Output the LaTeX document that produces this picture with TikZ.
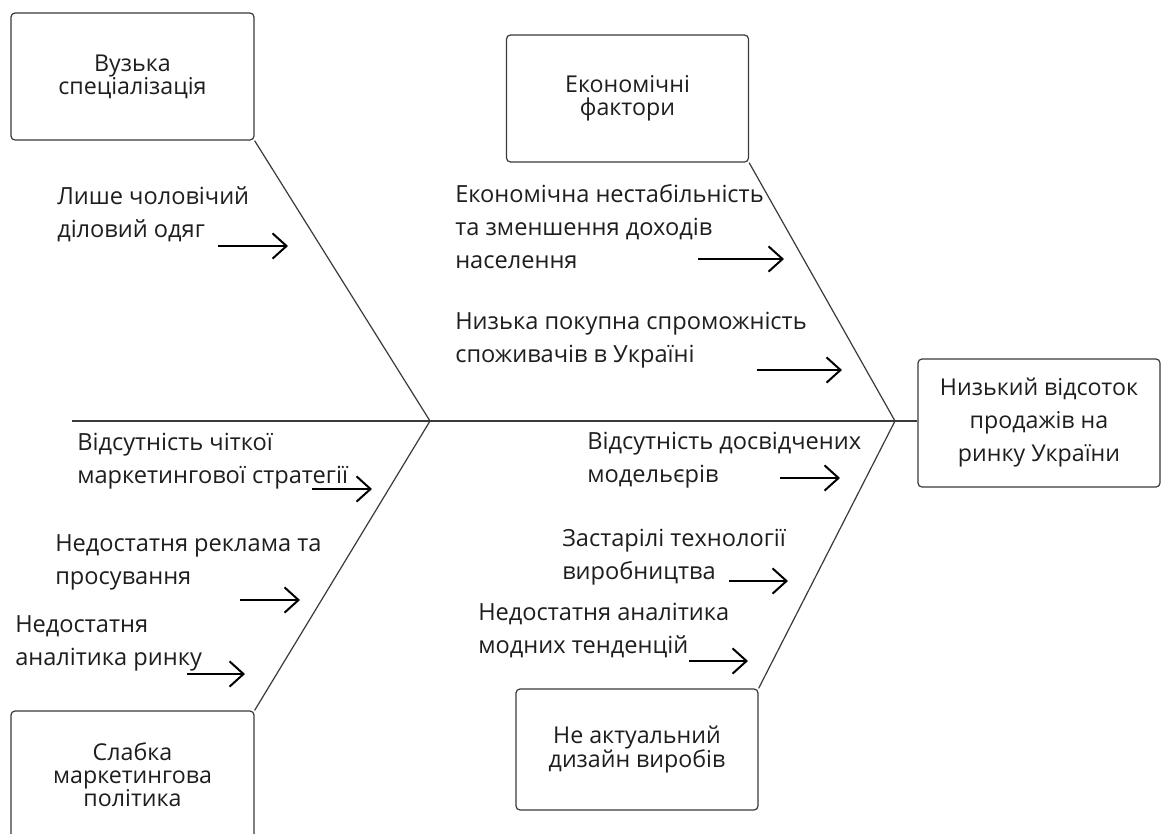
\documentclass[tikz,border=0pt]{standalone}
\usepackage{fontspec}
\setmainfont{Open Sans}
\usetikzlibrary{arrows.meta}
\definecolor{txt}{HTML}{1E1E1E}
\definecolor{linec}{HTML}{3A3A3A}
\definecolor{boxc}{HTML}{3A3A3A}
\begin{document}
\begin{tikzpicture}[x=0.75pt,y=-0.75pt,
  box/.style={draw=boxc, line width=0.9pt, rounded corners=3pt, align=center,
    inner sep=0pt, text=txt, font=\fontsize{17.4}{17.25}\selectfont},
  lbl/.style={anchor=base west, align=left, inner sep=0pt, text=txt,
    font=\fontsize{17.7}{24.5}\selectfont},
  bone/.style={draw=linec, line width=0.9pt},
  cause/.style={draw=black, line width=1.5pt,
    -{Straight Barb[length=10.5pt,width=19pt,line width=1.5pt]}}]
\clip (0,0) rectangle (1161,833);
\fill[white] (0,0) rectangle (1161,833);

% boxes
\node[box, minimum width=182.25pt, minimum height=95.25pt] (A) at (132.5,76.5) {Вузька\\спеціалізація};
\node[box, minimum width=181.5pt, minimum height=95.25pt] (B) at (627.5,98.5) {Економічні\\фактори};
\node[box, minimum width=181.5pt, minimum height=96pt, font=\fontsize{17.4}{24.75}\selectfont] (C) at (1039,423) {Низький відсоток\\продажів на\\ринку України};
\node[box, minimum width=182.25pt, minimum height=95.25pt] (D) at (132.5,774.5) {Слабка\\маркетингова\\політика};
\node[box, minimum width=181.5pt, minimum height=90.75pt] (E) at (637,749.5) {Не актуальний\\дизайн виробів};

% spine and bones
\coordinate (S) at (72,421);
\coordinate (J1) at (430,421);
\coordinate (J2) at (895,421);
\draw[bone] (S) -- (C.west |- S);
\draw[bone] (A.south east) -- (J1) -- (D.north east);
\draw[bone] (B.south east) -- (J2) -- (E.north east);

% labels (anchored at the baseline of the last line)
\node[lbl] (l1) at (57,237) {Лише чоловічий\\діловий одяг};
\node[lbl] (l2) at (455,268) {Економічна нестабільність\\та зменшення доходів\\населення};
\node[lbl] (l3) at (455,362) {Низька покупна спроможність\\споживачів в Україні};
\node[lbl] (l4) at (77,483) {Відсутність чіткої\\маркетингової стратегії};
\node[lbl] (l5) at (55,584) {Недостатня реклама та\\просування};
\node[lbl] (l6) at (15,665) {Недостатня\\аналітика ринку};
\node[lbl] (l7) at (587,482) {Відсутність досвідчених\\модельєрів};
\node[lbl] (l8) at (562,579) {Застарілі технології\\виробництва};
\node[lbl] (l9) at (478,653) {Недостатня аналітика\\модних тенденцій};

% cause arrows
\coordinate (a1s) at (218,246); \coordinate (a1e) at (288,246);
\coordinate (a2s) at (698,259); \coordinate (a2e) at (784,259);
\coordinate (a3s) at (757,370); \coordinate (a3e) at (842,370);
\coordinate (a4s) at (312,489); \coordinate (a4e) at (372,489);
\coordinate (a5s) at (240,600); \coordinate (a5e) at (300,600);
\coordinate (a6s) at (187,674); \coordinate (a6e) at (245,674);
\coordinate (a7s) at (780,478); \coordinate (a7e) at (840,478);
\coordinate (a8s) at (729,581); \coordinate (a8e) at (788,581);
\coordinate (a9s) at (689,661); \coordinate (a9e) at (748,661);
\draw[cause] (a1s) -- (a1e);
\draw[cause, line width=1.9pt] (a2s) -- (a2e);
\draw[cause] (a3s) -- (a3e);
\draw[cause] (a4s) -- (a4e);
\draw[cause] (a5s) -- (a5e);
\draw[cause] (a6s) -- (a6e);
\draw[cause] (a7s) -- (a7e);
\draw[cause] (a8s) -- (a8e);
\draw[cause] (a9s) -- (a9e);
\end{tikzpicture}
\end{document}
